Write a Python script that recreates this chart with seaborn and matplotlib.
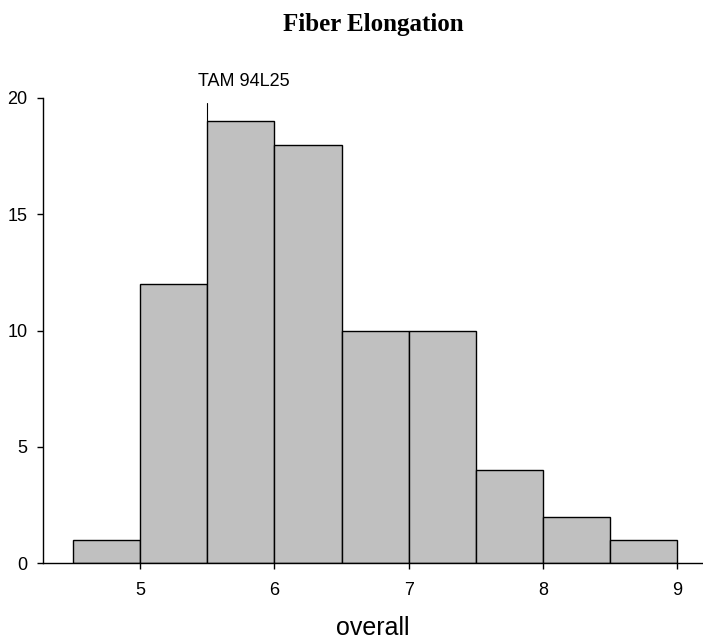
import seaborn as sns
import matplotlib.pyplot as plt

# Histogram of fiber elongation (bins of 0.5)
bin_edges = [4.5, 5.0, 5.5, 6.0, 6.5, 7.0, 7.5, 8.0, 8.5, 9.0]
counts = [1, 12, 19, 18, 10, 10, 4, 2, 1]
bin_centers = [(a + b) / 2 for a, b in zip(bin_edges[:-1], bin_edges[1:])]

marker_value = 5.5
marker_label = 'TAM 94L25'

sns.set_style('white')
plt.rcParams['font.family'] = ['Liberation Sans', 'DejaVu Sans']
plt.rcParams['text.color'] = 'black'

fig = plt.figure(figsize=(7.03, 6.44), dpi=100)
ax = fig.add_axes([43 / 703, 1 - 563 / 644, 660 / 703, (563 - 98) / 644])

sns.histplot(x=bin_centers, weights=counts, bins=bin_edges,
             color='#C0C0C0', edgecolor='black', linewidth=1,
             alpha=1, ax=ax)

ax.set_xlim(4.277, 9.19)
ax.set_ylim(0, 20)
ax.set_xticks([5, 6, 7, 8, 9])
ax.set_yticks([0, 5, 10, 15, 20])
ax.tick_params(axis='both', bottom=True, left=True, direction='out',
               length=4, width=1, labelsize=13, colors='black')
ax.tick_params(axis='x', pad=10)
ax.tick_params(axis='y', pad=7)

for side in ['top', 'right']:
    ax.spines[side].set_visible(False)
for side in ['left', 'bottom']:
    ax.spines[side].set_color('black')
    ax.spines[side].set_linewidth(1)

# Marker line and label above the tallest bar
ax.plot([marker_value, marker_value], [19, 19.8], color='black', lw=0.8,
        clip_on=False)
ax.text(marker_value - 0.07, 20.35, marker_label, ha='left', va='bottom',
        fontsize=13)

ax.set_xlabel('overall', fontsize=18, labelpad=12, color='black')
ax.set_ylabel('')
fig.text((43 + 703) / 2 / 703, 1 - 24 / 644, 'Fiber Elongation',
         ha='center', va='center', fontsize=18, fontweight='bold',
         family='Liberation Serif')

plt.savefig('out.png', dpi=100)
